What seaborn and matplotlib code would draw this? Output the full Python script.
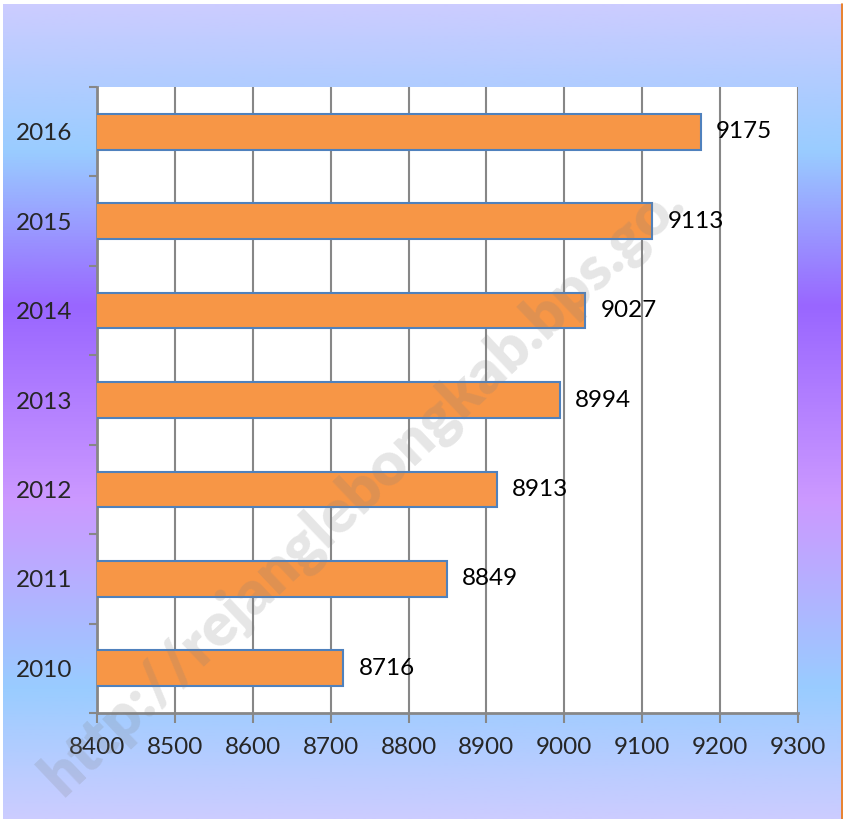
import numpy as np
import matplotlib
matplotlib.use("Agg")
import matplotlib.pyplot as plt
from matplotlib.colors import LinearSegmentedColormap
from matplotlib.lines import Line2D
import seaborn as sns

years = ["2016", "2015", "2014", "2013", "2012", "2011", "2010"]
values = [9175, 9113, 9027, 8994, 8913, 8849, 8716]
xticks = [8400, 8500, 8600, 8700, 8800, 8900, 9000, 9100, 9200, 9300]
watermark = "http://rejanglebongkab.bps.go."

sns.set_style("white")
plt.rcParams['font.family'] = ['Lato', 'DejaVu Sans']

W, H = 843, 819
fig = plt.figure(figsize=(W / 100, H / 100), dpi=100)
fig.patch.set_facecolor("white")

# gradient background
bg = fig.add_axes([3 / W, 0, (841 - 3) / W, (819 - 4) / H], zorder=0)
cmap = LinearSegmentedColormap.from_list(
    "bg",
    [(0.0, "#CCCCFF"), (0.18, "#99CCFF"), (0.37, "#9966FF"),
     (0.61, "#CC99FF"), (0.84, "#99CCFF"), (1.0, "#CCCCFF")])
grad = np.linspace(0, 1, 512).reshape(-1, 1)
bg.imshow(grad, aspect="auto", cmap=cmap, extent=[0, 1, 1, 0])
bg.set_axis_off()

# plot area
L, R, T, B = 97, 798, 87, 713
ax = fig.add_axes([L / W, 1 - B / H, (R - L) / W, (B - T) / H], zorder=1)
ax.set_facecolor("white")

sns.barplot(x=values, y=years, order=years, color="#F79646", saturation=1,
            width=0.4, edgecolor="#4F81BD", linewidth=1.5, ax=ax, zorder=3)

ax.set_xlim(xticks[0], xticks[-1])
ax.set_ylim(len(years) - 0.5, -0.5)
ax.set_xticks(xticks)
ax.set_xticklabels([str(t) for t in xticks])
ax.set_yticks(range(len(years)))
ax.set_yticklabels(years)
ax.set_yticks(np.arange(-0.5, len(years), 1), minor=True)
ax.set_xlabel("")
ax.set_ylabel("")

gray = "#878787"
ax.grid(axis="x", color=gray, lw=1.5, zorder=0)
ax.grid(axis="y", visible=False)
ax.set_axisbelow(True)
for s in ["top", "right"]:
    ax.spines[s].set_visible(False)
for s in ["left", "bottom"]:
    ax.spines[s].set_color(gray)
    ax.spines[s].set_linewidth(2)

fs = 17.5
ax.tick_params(axis="y", which="major", length=0, pad=18, labelsize=fs)
ax.tick_params(axis="y", which="minor", length=6, width=1.5, color=gray, left=True)
ax.tick_params(axis="x", which="major", length=7, width=1.5, color=gray,
               bottom=True, pad=10, labelsize=fs)

for c in ax.containers:
    ax.bar_label(c, labels=[str(v) for v in values], padding=11, fontsize=fs,
                 color="black")

# right orange frame line
fig.add_artist(Line2D([841.5 / W, 841.5 / W], [0, 1 - 4 / H], color="#E46C0A",
                      lw=1.2, transform=fig.transFigure, zorder=5))

# watermark
fig.text(362 / W, 1 - 488 / H, watermark, rotation=43.5, rotation_mode="anchor",
         ha="center", va="center", fontsize=44, fontweight="heavy",
         color="#808080", alpha=0.2, zorder=10)

fig.savefig("out.png", dpi=100)
